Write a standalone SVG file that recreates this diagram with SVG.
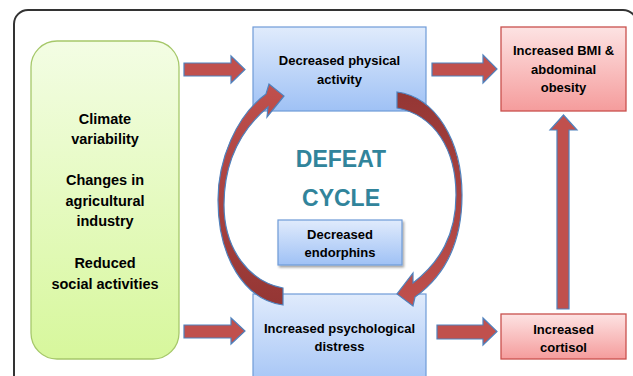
<svg xmlns="http://www.w3.org/2000/svg" width="633" height="376" viewBox="0 0 633 376">
<defs>
<linearGradient id="gBlue" x1="0" y1="0" x2="0" y2="1"><stop offset="0" stop-color="#e0ebfc"/><stop offset="1" stop-color="#9fc1f5"/></linearGradient>
<linearGradient id="gRed" x1="0" y1="0" x2="0" y2="1"><stop offset="0" stop-color="#fde3e3"/><stop offset="1" stop-color="#f59c9c"/></linearGradient>
<linearGradient id="gGreen" x1="0" y1="0" x2="0" y2="1"><stop offset="0" stop-color="#f3fde4"/><stop offset="1" stop-color="#d7f79c"/></linearGradient>
<linearGradient id="gArrL" gradientUnits="userSpaceOnUse" x1="0" y1="305" x2="0" y2="85"><stop offset="0" stop-color="#943634"/><stop offset="1" stop-color="#c0504d"/></linearGradient>
<linearGradient id="gArrR" gradientUnits="userSpaceOnUse" x1="0" y1="92" x2="0" y2="306"><stop offset="0" stop-color="#943634"/><stop offset="1" stop-color="#c0504d"/></linearGradient>
<filter id="sh" x="-10%" y="-10%" width="130%" height="140%"><feDropShadow dx="1.5" dy="2" stdDeviation="1" flood-color="#000" flood-opacity="0.35"/></filter>
</defs>
<style>
.t{font-family:"Liberation Sans",Arial,sans-serif;font-weight:bold;font-size:13px;fill:#000;text-anchor:middle}
.tg{font-size:14.5px}
.blue{fill:url(#gBlue);stroke:#6f9bd8;stroke-width:1.2}
.red{fill:url(#gRed);stroke:#c9504d;stroke-width:1.3}
.arr{fill:#c0504d;stroke:#4f81bd;stroke-width:1.2;stroke-linejoin:miter}
.title{font-family:"Liberation Sans",Arial,sans-serif;font-weight:bold;font-size:23px;fill:#31849b;text-anchor:middle}
</style>
<rect width="633" height="376" fill="#fff"/>
<rect x="14" y="10" width="623" height="420" rx="14" fill="none" stroke="#333" stroke-width="2"/>

<g id="drivers">
<rect x="31" y="41" width="148" height="318" rx="26" fill="url(#gGreen)" stroke="#a6c86a" stroke-width="1.3"/>
<text class="t tg" x="105" y="124">Climate</text>
<text class="t tg" x="105" y="144">variability</text>
<text class="t tg" x="105" y="185">Changes in</text>
<text class="t tg" x="105" y="206">agricultural</text>
<text class="t tg" x="105" y="226">industry</text>
<text class="t tg" x="105" y="268">Reduced</text>
<text class="t tg" x="105" y="289">social activities</text>
</g>

<g id="physical-activity">
<rect class="blue" x="253" y="27" width="173" height="84"/>
<text class="t" x="339.5" y="65">Decreased physical</text>
<text class="t" x="339.5" y="84">activity</text>
</g>

<g id="bmi">
<rect class="red" x="501" y="27" width="125" height="84"/>
<text class="t" x="563.5" y="55">Increased BMI &amp;</text>
<text class="t" x="563.5" y="74">abdominal</text>
<text class="t" x="563.5" y="92">obesity</text>
</g>

<g id="endorphins">
<rect class="blue" x="278" y="220" width="124" height="45" filter="url(#sh)"/>
<text class="t" x="340" y="239">Decreased</text>
<text class="t" x="340" y="257">endorphins</text>
</g>

<g id="distress">
<rect class="blue" x="253" y="294" width="173" height="100"/>
<text class="t" x="339.5" y="333">Increased psychological</text>
<text class="t" x="339.5" y="351">distress</text>
</g>

<g id="cortisol">
<rect class="red" x="501" y="314" width="125" height="45"/>
<text class="t" x="563.5" y="334">Increased</text>
<text class="t" x="563.5" y="352">cortisol</text>
</g>

<g id="defeat-cycle">
<text class="title" x="341" y="167">DEFEAT</text>
<text class="title" x="341" y="206">CYCLE</text>
</g>

<g id="connectors">
<path class="arr" d="M184,63 H231 V56 L245,69.5 L231,83 V76 H184 Z"/>
<path class="arr" d="M432,63 H483 V55 L497,69 L483,83 V76 H432 Z"/>
<path class="arr" d="M184,325 H231 V318 L245,331 L231,344 V338 H184 Z"/>
<path class="arr" d="M437,325 H483 V318 L497,331.5 L483,345 V339 H437 Z"/>
<path class="arr" d="M557,309 V130 H550 L563.5,115 L577,130 H569 V309 Z"/>
<path class="arr" style="fill:url(#gArrL)" d="M283,288 C250,282 224,250 224,205 C224,160 243,128 268,107 L267,117 L284,96 L269,84 L266,94 C236,116 218,160 218,200 C218,258 245,300 283,305 Z"/>
<path class="arr" style="fill:url(#gArrR)" d="M397,92 C435,97 462,140 462,195 C462,240 446,275 415,297 L413,306 L397,294 L413,273 L413,283 C440,262 456,235 456,195 C456,150 435,115 397,108 Z"/>
</g>
</svg>
